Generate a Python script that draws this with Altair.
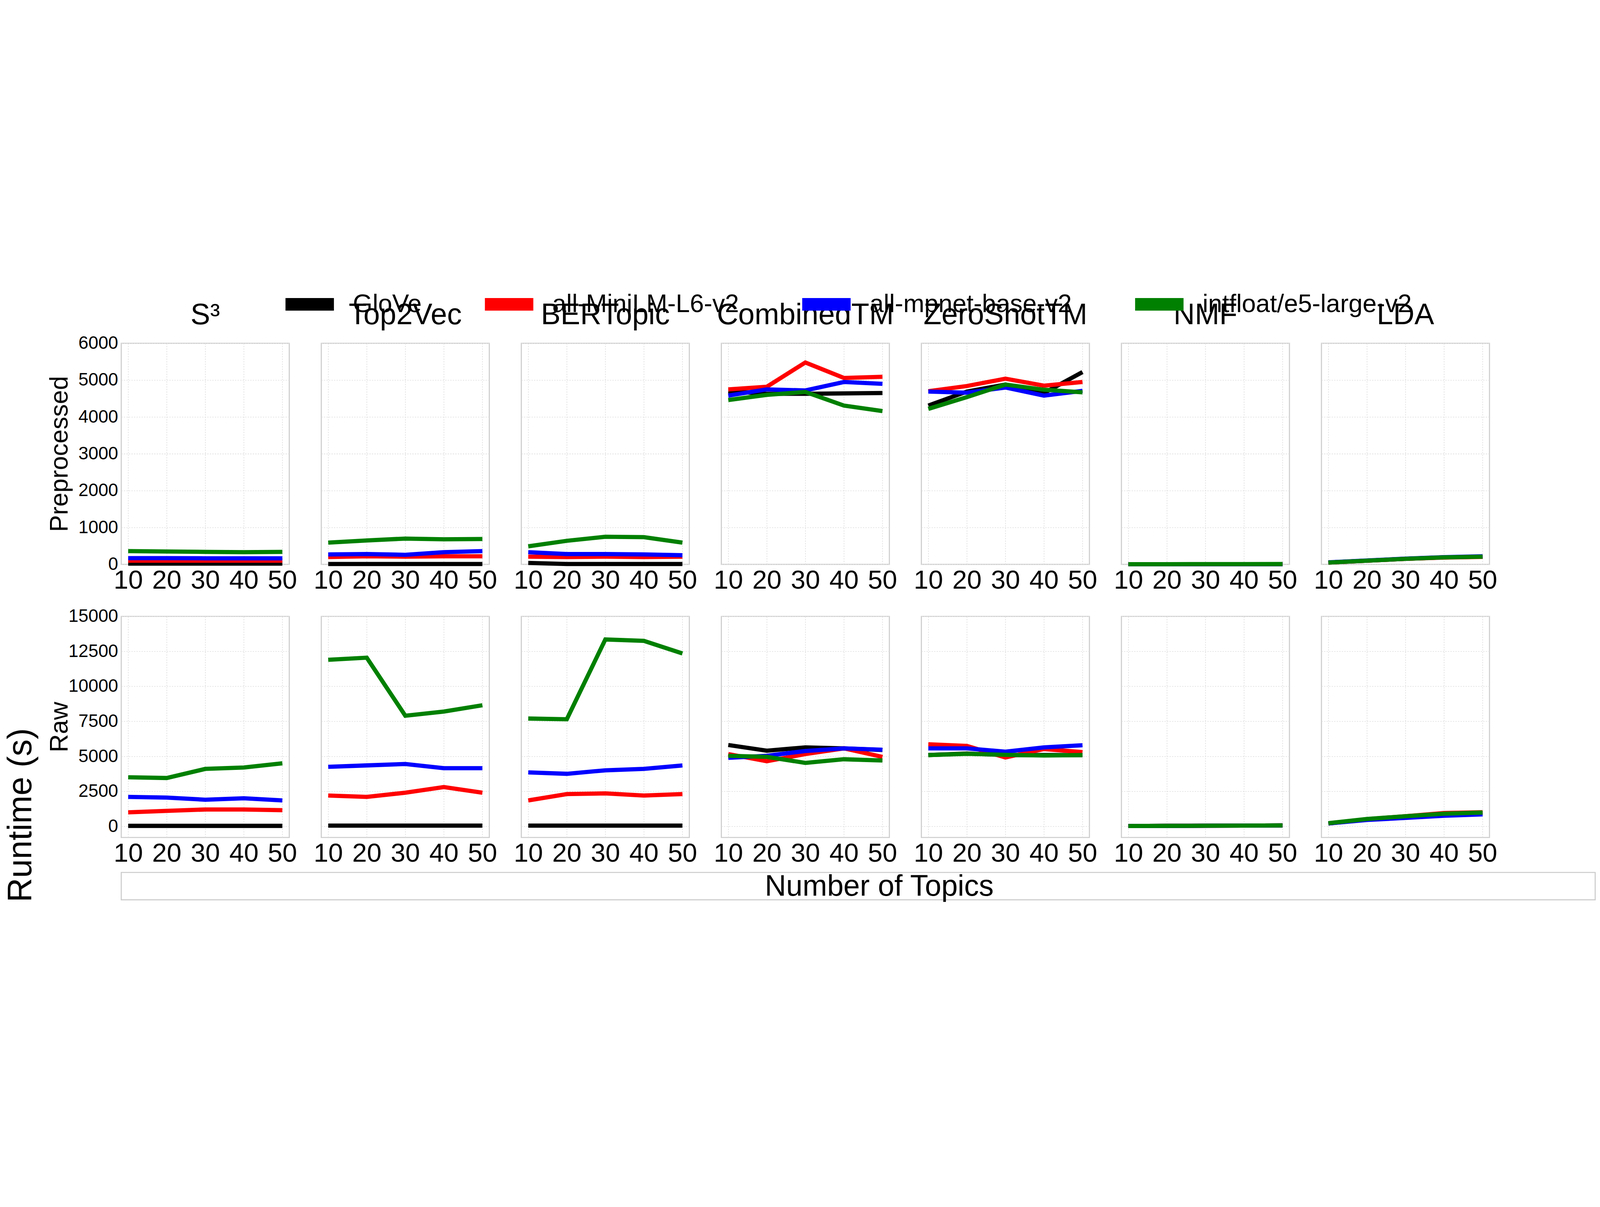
import altair as alt
import pandas as pd

models = ["S³", "Top2Vec", "BERTopic", "CombinedTM", "ZeroShotTM", "NMF", "LDA"]
embeddings = ["GloVe", "all-MiniLM-L6-v2", "all-mpnet-base-v2", "intfloat/e5-large-v2"]
colors = ["black", "red", "blue", "green"]
topics = [10, 20, 30, 40, 50]

pre = {
    "S³": [[20, 20, 20, 20, 20], [100, 100, 100, 100, 100], [170, 170, 165, 165, 165], [360, 350, 340, 330, 340]],
    "Top2Vec": [[10, 10, 10, 10, 10], [200, 220, 210, 220, 220], [270, 280, 260, 330, 360], [590, 650, 700, 680, 690]],
    "BERTopic": [[40, 10, 10, 10, 10], [210, 200, 210, 200, 210], [330, 280, 280, 270, 250], [490, 640, 750, 740, 590]],
    "CombinedTM": [[4700, 4630, 4630, 4640, 4650], [4750, 4820, 5480, 5060, 5090], [4580, 4750, 4720, 4950, 4900], [4460, 4600, 4680, 4310, 4160]],
    "ZeroShotTM": [[4310, 4690, 4880, 4650, 5220], [4700, 4840, 5040, 4850, 4950], [4690, 4660, 4800, 4580, 4710], [4220, 4540, 4880, 4740, 4670]],
    "NMF": [[5, 5, 5, 5, 5], [5, 5, 5, 5, 5], [5, 5, 5, 5, 5], [5, 6, 7, 8, 9]],
    "LDA": [[50, 100, 150, 190, 210], [50, 100, 150, 185, 205], [55, 105, 155, 195, 220], [50, 100, 150, 190, 210]],
}
raw = {
    "S³": [[30, 30, 30, 30, 30], [1000, 1100, 1200, 1200, 1150], [2100, 2050, 1900, 2000, 1850], [3500, 3450, 4100, 4200, 4500]],
    "Top2Vec": [[50, 50, 50, 50, 50], [2200, 2100, 2400, 2800, 2400], [4250, 4350, 4450, 4150, 4150], [11900, 12050, 7900, 8200, 8650]],
    "BERTopic": [[50, 50, 50, 50, 50], [1850, 2300, 2350, 2200, 2300], [3850, 3750, 4000, 4100, 4350], [7700, 7650, 13350, 13250, 12350]],
    "CombinedTM": [[5810, 5400, 5640, 5570, 5450], [5160, 4650, 5160, 5570, 4960], [4890, 5040, 5380, 5570, 5470], [5040, 4960, 4530, 4790, 4700]],
    "ZeroShotTM": [[5090, 5200, 5090, 5090, 5090], [5860, 5740, 4920, 5520, 5300], [5570, 5570, 5330, 5640, 5790], [5090, 5180, 5110, 5060, 5090]],
    "NMF": [[20, 30, 40, 50, 60], [20, 30, 40, 50, 60], [20, 30, 40, 50, 60], [20, 30, 40, 50, 60]],
    "LDA": [[200, 500, 700, 900, 950], [200, 500, 720, 950, 1000], [200, 450, 600, 750, 850], [220, 520, 720, 900, 980]],
}

rows = []
for rname, d in [("Preprocessed", pre), ("Raw", raw)]:
    for m in models:
        for ei, e in enumerate(embeddings):
            for t, v in zip(topics, d[m][ei]):
                rows.append({"row": rname, "model": m, "emb": e, "x": t, "y": v})
df = pd.DataFrame(rows)

FONT = "Liberation Sans"
color = alt.Color("emb:N", scale=alt.Scale(domain=embeddings, range=colors),
                  legend=alt.Legend(title=None, orient="none", direction="horizontal",
                                    legendX=750, legendY=-330,
                                    symbolType="stroke", symbolSize=52900, symbolStrokeWidth=60,
                                    labelFontSize=120, labelFont=FONT, labelLimit=0,
                                    columnPadding=180, labelOffset=60))

def panel(rname, m, first_col):
    dom = [0, 6000] if rname == "Preprocessed" else [-800, 15000]
    vals = [0, 1000, 2000, 3000, 4000, 5000, 6000] if rname == "Preprocessed" else [0, 2500, 5000, 7500, 10000, 12500, 15000]
    yaxis = alt.Axis(values=vals, format="d", labelFontSize=85, labelFont=FONT, labelLimit=0,
                     title=rname, titleFontSize=120, titleFont=FONT, titleFontWeight="normal",
                     titlePadding=30, titleOpacity=1 if first_col else 0,
                     labelOpacity=1 if first_col else 0, ticks=False, domain=False,
                     gridDash=[6, 6], gridColor="#dddddd", gridWidth=3, labelPadding=15)
    xaxis = alt.Axis(values=topics, labelFontSize=125, labelFont=FONT, title=None, ticks=False,
                     domain=False, gridDash=[6, 6], gridColor="#dddddd", gridWidth=3, labelPadding=15)
    c = alt.Chart(df[(df.row == rname) & (df.model == m)]).mark_line(strokeWidth=20).encode(
        x=alt.X("x:Q", scale=alt.Scale(domain=[8.2, 51.8], nice=False), axis=xaxis),
        y=alt.Y("y:Q", scale=alt.Scale(domain=dom, nice=False), axis=yaxis),
        color=color,
    ).properties(width=798, height=1050)
    if rname == "Preprocessed":
        c = c.properties(title=alt.TitleParams(m, fontSize=140, font=FONT, fontWeight="normal", offset=20))
    return c

row1 = alt.hconcat(*[panel("Preprocessed", m, i == 0) for i, m in enumerate(models)], spacing=152, bounds="flush")
row2 = alt.hconcat(*[panel("Raw", m, i == 0) for i, m in enumerate(models)], spacing=152, bounds="flush")

caption = alt.Chart(pd.DataFrame({"t": ["Number of Topics"]})).mark_text(
    fontSize=140, font=FONT, baseline="top").encode(
    text="t:N", x=alt.value(3600), y=alt.value(0)).properties(width=7000, height=130)

chart = alt.vconcat(
    alt.vconcat(row1, row2, spacing=60),
    caption,
    spacing=20,
).properties(
    title=alt.TitleParams("Runtime (s)", orient="left", fontSize=160, font=FONT,
                          fontWeight="normal", offset=40)
).configure_view(stroke="#cccccc", strokeWidth=5)

chart.save("out.html", embed_options={"renderer": "svg", "actions": False})
